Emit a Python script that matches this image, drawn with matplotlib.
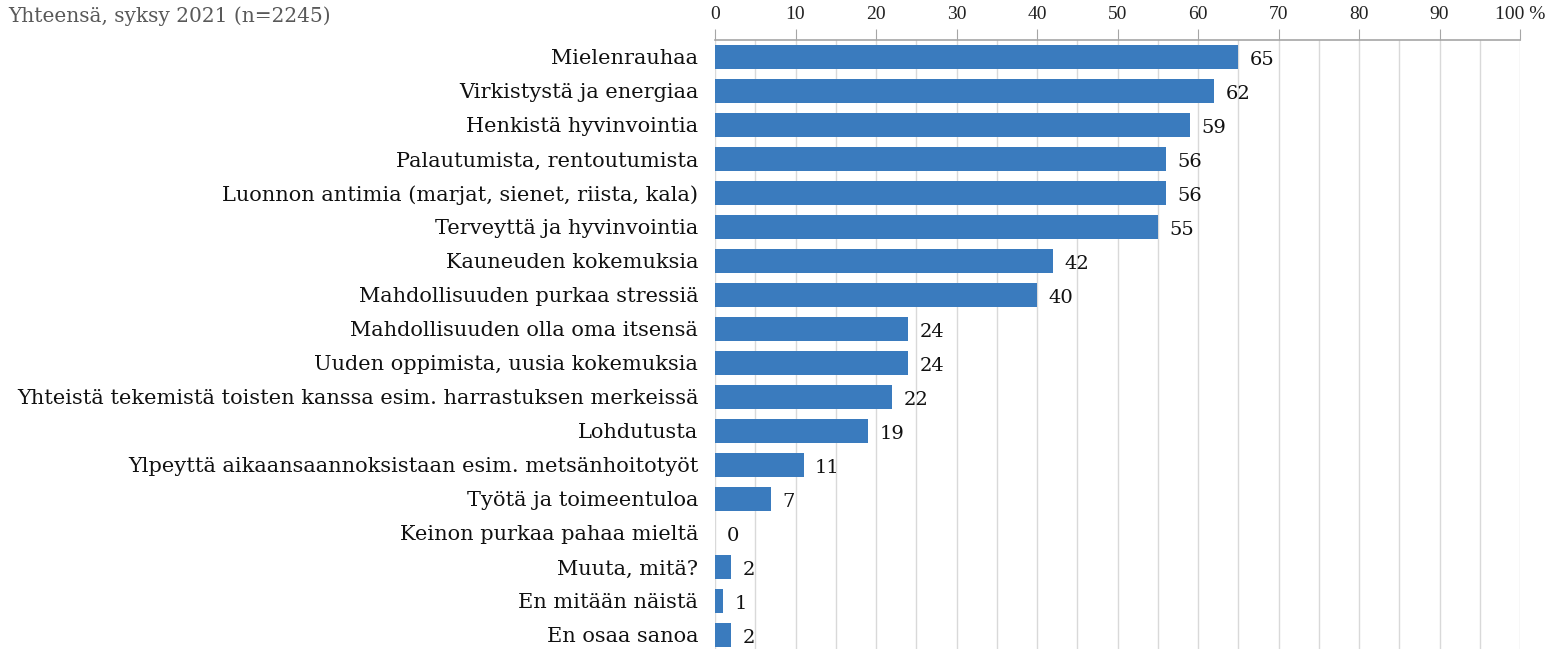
import matplotlib.pyplot as plt
from matplotlib.ticker import MultipleLocator

# Survey answers, autumn 2021 (share of respondents, %)
categories = [
    "Mielenrauhaa",
    "Virkistystä ja energiaa",
    "Henkistä hyvinvointia",
    "Palautumista, rentoutumista",
    "Luonnon antimia (marjat, sienet, riista, kala)",
    "Terveyttä ja hyvinvointia",
    "Kauneuden kokemuksia",
    "Mahdollisuuden purkaa stressiä",
    "Mahdollisuuden olla oma itsensä",
    "Uuden oppimista, uusia kokemuksia",
    "Yhteistä tekemistä toisten kanssa esim. harrastuksen merkeissä",
    "Lohdutusta",
    "Ylpeyttä aikaansaannoksistaan esim. metsänhoitotyöt",
    "Työtä ja toimeentuloa",
    "Keinon purkaa pahaa mieltä",
    "Muuta, mitä?",
    "En mitään näistä",
    "En osaa sanoa",
]
values = [65, 62, 59, 56, 56, 55, 42, 40, 24, 24, 22, 19, 11, 7, 0, 2, 1, 2]
tick_values = list(range(0, 101, 10))
tick_labels = [str(t) for t in tick_values[:-1]] + ["100 %"]

bar_color = "#3A7BBE"
grid_color = "#D9D9D9"
serif = ["DejaVu Serif"]

fig = plt.figure(figsize=(15.54, 6.49), dpi=100)
ax = fig.add_axes([715 / 1554, -3 / 649, 805 / 1554, 612 / 649])

y = list(range(len(categories)))
ax.barh(y, values, height=0.7, color=bar_color, linewidth=0, zorder=3)

ax.set_xlim(0, 100)
ax.set_ylim(len(categories) - 0.5, -0.5)

ax.xaxis.tick_top()
ax.set_xticks(tick_values)
ax.set_xticklabels(tick_labels, fontsize=14, family=["Liberation Serif"],
                   color="#222222")
ax.xaxis.set_minor_locator(MultipleLocator(5))
ax.tick_params(axis="x", which="major", length=8, color="#A6A6A6", pad=4)
ax.tick_params(axis="x", which="minor", length=0)
ax.grid(axis="x", which="both", color=grid_color, linewidth=1, zorder=0)

ax.set_yticks(y)
ax.set_yticklabels(categories, fontsize=15.0, family=serif, color="#111111")
ax.tick_params(axis="y", length=0, pad=12)

for side in ["right", "bottom", "left"]:
    ax.spines[side].set_visible(False)
ax.spines["top"].set_color("#A6A6A6")
ax.spines["top"].set_linewidth(1.2)

for yi, v in zip(y, values):
    ax.text(v + 1.4, yi + 0.08, str(v), va="center", ha="left", fontsize=14,
            family=serif, color="#111111")

fig.text(8 / 1554, 1 - 16 / 649, "Yhteensä, syksy 2021 (n=2245)",
         fontsize=14.5, family=serif, color="#595959", va="center", ha="left")

fig.savefig("out.png", dpi=100)
